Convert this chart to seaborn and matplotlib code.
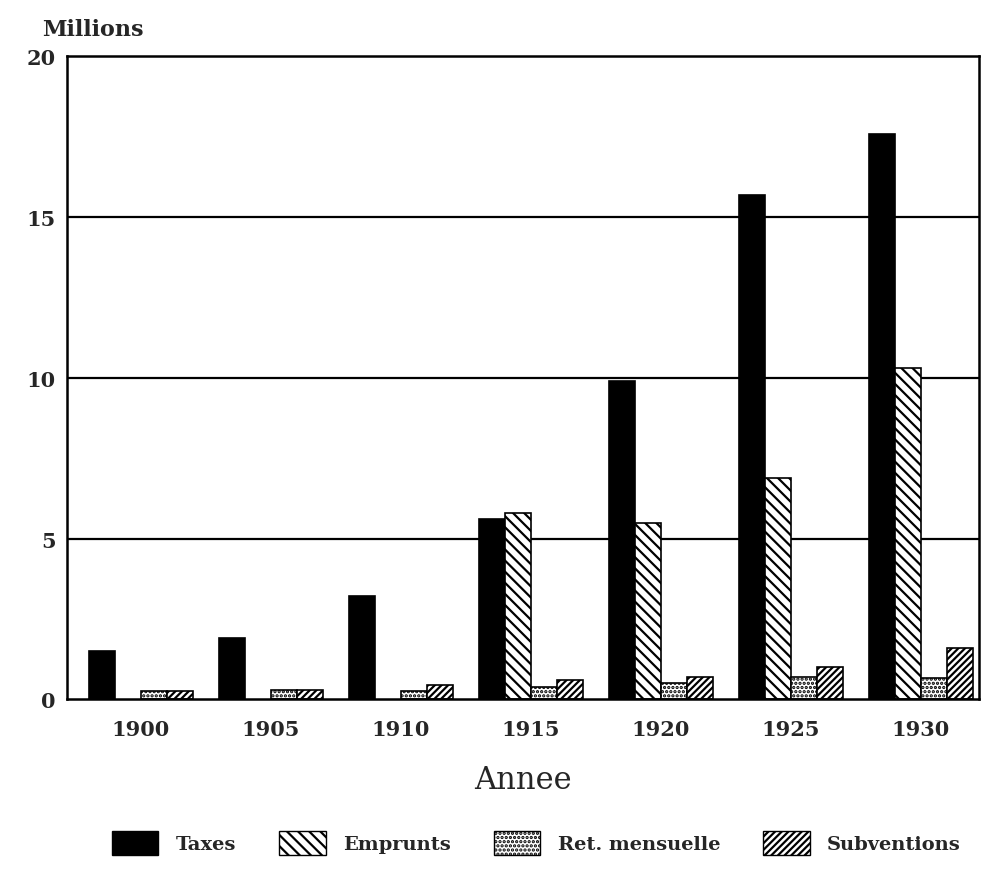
import matplotlib
matplotlib.use("Agg")
import matplotlib.pyplot as plt
import seaborn as sns
import pandas as pd
from matplotlib.patches import Patch

years = ["1900", "1905", "1910", "1915", "1920", "1925", "1930"]
series = ["Taxes", "Emprunts", "Ret. mensuelle", "Subventions"]
taxes = [1.5, 1.9, 3.2, 5.6, 9.9, 15.7, 17.6]
emprunts = [0, 0, 0, 5.8, 5.5, 6.9, 10.3]
ret_mensuelle = [0.25, 0.28, 0.25, 0.37, 0.5, 0.68, 0.65]
subventions = [0.25, 0.28, 0.45, 0.6, 0.7, 1.0, 1.6]
yticks = [0, 5, 10, 15, 20]

rows = []
for name, vals in zip(series, [taxes, emprunts, ret_mensuelle, subventions]):
    for y, v in zip(years, vals):
        rows.append({"Annee": y, "Serie": name, "Valeur": v})
df = pd.DataFrame(rows)

sns.set_theme(style="white")
plt.rcParams["font.family"] = ["DejaVu Serif"]
plt.rcParams["hatch.linewidth"] = 1.6

fig = plt.figure(figsize=(9.84, 8.7), dpi=100)
ax = fig.add_axes([0.068, 0.195, 0.927, 0.739])

faces = ["black", "white", "white", "white"]
hatches = [None, "\\\\\\", "....", "/////"]

sns.barplot(data=df, x="Annee", y="Valeur", hue="Serie", hue_order=series,
            palette=faces, width=0.8, ax=ax, legend=False, saturation=1,
            edgecolor="black", linewidth=1.2, errorbar=None)

for cont, h in zip(ax.containers, hatches):
    for bar in cont:
        if h:
            bar.set_hatch(h)
        if bar.get_height() == 0:
            bar.set_visible(False)

ax.set_xlim(-0.57, 6.45)
ax.set_ylim(0, 20)
ax.set_yticks(yticks)
ax.set_yticklabels([str(t) for t in yticks], fontsize=15, fontweight="bold")
for t in [5, 10, 15]:
    ax.axhline(t, color="black", linewidth=1.6, zorder=0)
ax.tick_params(axis="x", labelsize=15, length=0, pad=14)
ax.tick_params(axis="y", length=0, pad=8)
for lab in ax.get_xticklabels():
    lab.set_fontweight("bold")
for s in ax.spines.values():
    s.set_color("black")
    s.set_linewidth(1.8)
ax.set_xlabel("Annee", fontsize=22, labelpad=18)
ax.set_ylabel("")
ax.text(0.028, 1.025, "Millions", transform=ax.transAxes, fontsize=16,
        fontweight="bold", ha="center", va="bottom")

handles = [Patch(facecolor=f, edgecolor="black", hatch=h, label=s)
           for f, h, s in zip(faces, hatches, series)]
leg = fig.legend(handles=handles, loc="center", bbox_to_anchor=(0.545, 0.03),
                 ncol=4, frameon=False, fontsize=14, handlelength=2.4,
                 handleheight=1.5, columnspacing=2.2, handletextpad=0.9)
for t in leg.get_texts():
    t.set_fontweight("bold")

fig.savefig("out.png", dpi=100)
